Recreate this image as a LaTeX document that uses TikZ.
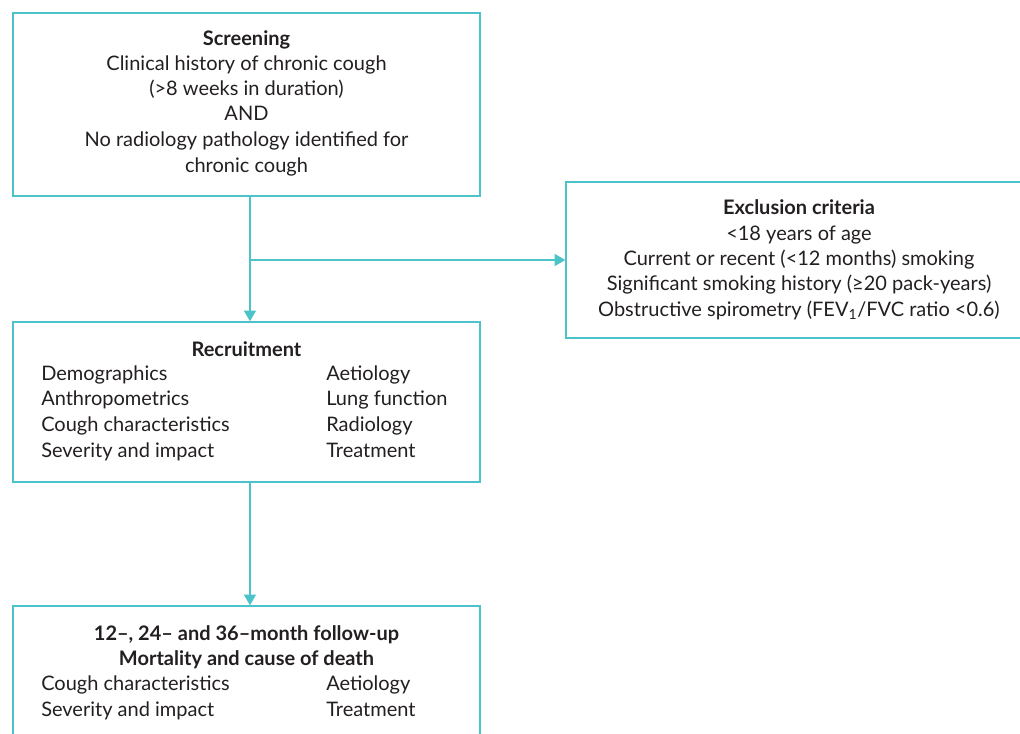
\documentclass[tikz,border=0pt]{standalone}
\usepackage{fontspec}
\setmainfont{Lato}
\usetikzlibrary{arrows.meta}
\definecolor{flowc}{HTML}{4BC3C8}
\definecolor{txtc}{HTML}{231F20}
\begin{document}
\begin{tikzpicture}[x=0.75pt,y=-0.75pt,
  box/.style={draw=flowc, line width=1.1pt, inner sep=0pt},
  arr/.style={draw=flowc, line width=1.1pt, -{Triangle[length=8pt,width=9pt]}},
  ln/.style={anchor=base, inner sep=0pt, text=txtc, font=\fontsize{15}{18}\selectfont},
  hd/.style={ln, font=\fontsize{15}{18}\selectfont\bfseries},
  lw/.style={ln, anchor=base west}]
\useasboundingbox (0,0) rectangle (1020,734);
% boxes
\node[box, minimum width=350.25pt, minimum height=137.25pt] (scr) at (246.5,104.5) {};
\node[box, minimum width=355.5pt, minimum height=117pt] (exc) at (803,260) {};
\node[box, minimum width=350.25pt, minimum height=120pt] (rec) at (246.5,402) {};
\node[box, minimum width=350.25pt, minimum height=115.5pt] (fol) at (246.5,683) {};
% screening text
\node[hd] (s0) at (246.5,46) {Screening};
\node[ln] (s1) at (246.5,71) {Clinical history of chronic cough};
\node[ln] (s2) at (246.5,96) {(>8 weeks in duration)};
\node[ln] (s3) at (246.5,121) {AND};
\node[ln] (s4) at (246.5,147) {No radiology pathology identified for};
\node[ln] (s5) at (246.5,173) {chronic cough};
% exclusion text
\node[hd] (e0) at (799,215) {Exclusion criteria};
\node[ln] (e1) at (799,241) {<18 years of age};
\node[ln] (e2) at (799,266) {Current or recent (<12 months) smoking};
\node[ln] (e3) at (799,290) {Significant smoking history (≥20 pack-years)};
\node[ln] (e4) at (799,316) {Obstructive spirometry (FEV\textsubscript{1}/FVC ratio <0.6)};
% recruitment text
\node[hd] (r0) at (246.5,356) {Recruitment};
\node[lw] (r1) at (41,380) {Demographics};
\node[lw] (r2) at (41,405) {Anthropometrics};
\node[lw] (r3) at (41,431) {Cough characteristics};
\node[lw] (r4) at (41,457) {Severity and impact};
\node[lw] (r5) at (326,380) {Aetiology};
\node[lw] (r6) at (326,405) {Lung function};
\node[lw] (r7) at (326,431) {Radiology};
\node[lw] (r8) at (326,457) {Treatment};
% follow-up text
\node[hd] (f0) at (246.5,640) {12–, 24– and 36–month follow-up};
\node[hd] (f1) at (246.5,665) {Mortality and cause of death};
\node[lw] (f2) at (41,690) {Cough characteristics};
\node[lw] (f3) at (41,716) {Severity and impact};
\node[lw] (f4) at (326,690) {Aetiology};
\node[lw] (f5) at (326,716) {Treatment};
% connectors
\coordinate (br) at (250,260);
\draw[arr] ([xshift=2.6pt]scr.south) -- ([xshift=2.6pt]rec.north);
\draw[arr] (br) -- (br -| exc.west);
\draw[arr] ([xshift=2.6pt]rec.south) -- ([xshift=2.6pt]fol.north);
\end{tikzpicture}
\end{document}
